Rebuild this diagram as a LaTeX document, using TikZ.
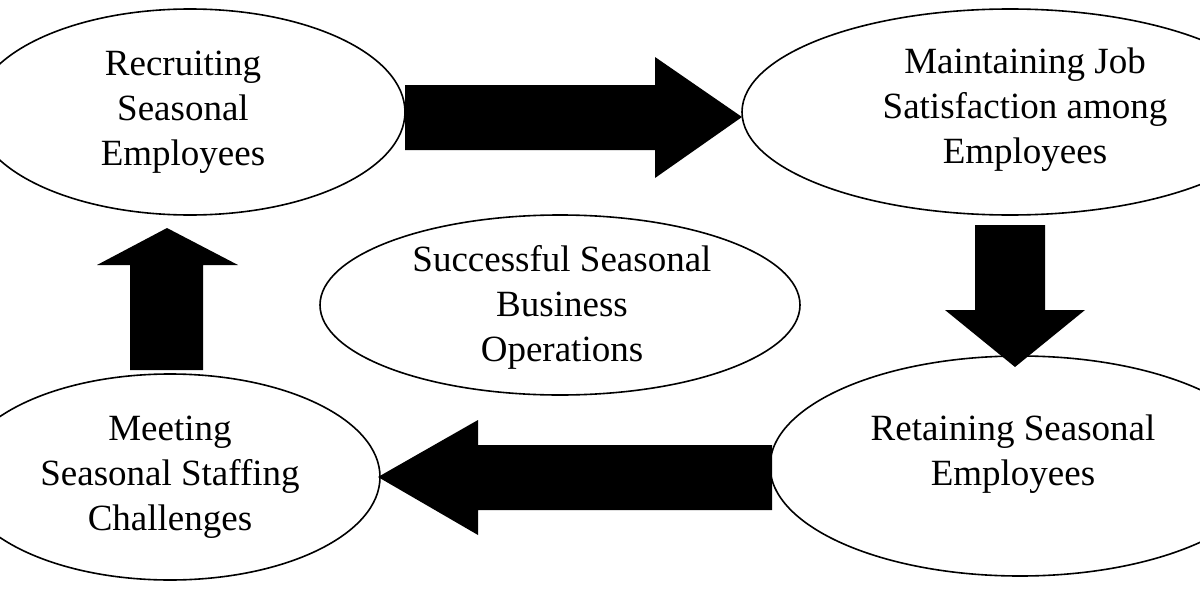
\documentclass[tikz,border=0pt]{standalone}
\usepackage{fontspec}
\setmainfont{Liberation Serif}
\usetikzlibrary{shapes.geometric}
\begin{document}
\begin{tikzpicture}[x=0.5pt,y=-0.5pt,
  lbl/.style={align=center,font=\fontsize{18.5}{22.5}\selectfont}]
\useasboundingbox (0,0) rectangle (1200,594);
\begin{scope}
\clip (0,0) rectangle (1200,594);
\draw[line width=0.8pt] (190,112) ellipse [x radius=215, y radius=103];
\draw[line width=0.8pt] (1010,112) ellipse [x radius=268, y radius=103];
\draw[line width=0.8pt] (560,305) ellipse [x radius=240, y radius=90];
\draw[line width=0.8pt] (170,477) ellipse [x radius=210, y radius=103];
\draw[line width=0.8pt] (1020,466) ellipse [x radius=250, y radius=110];
\end{scope}
\node[lbl] (a) at (183,112) {Recruiting\\Seasonal\\Employees};
\node[lbl] (b) at (1025,110) {Maintaining Job\\Satisfaction among\\Employees};
\node[lbl] (c) at (562,307) {Successful Seasonal\\Business\\Operations};
\node[lbl] (d) at (170,477) {Meeting\\Seasonal Staffing\\Challenges};
\node[lbl] (e) at (1013,454) {Retaining Seasonal\\Employees};
\fill (405,85) -- (655,85) -- (655,57) -- (742,117) -- (655,178) -- (655,150) -- (405,150) -- cycle;
\fill (975,225) -- (1045,225) -- (1045,310) -- (1085,310) -- (1015,367) -- (945,310) -- (975,310) -- cycle;
\fill (772,445) -- (478,445) -- (478,420) -- (378,477) -- (478,535) -- (478,510) -- (772,510) -- cycle;
\fill (130,370) -- (203,370) -- (203,265) -- (238,265) -- (167,228) -- (97,265) -- (130,265) -- cycle;
\end{tikzpicture}
\end{document}
